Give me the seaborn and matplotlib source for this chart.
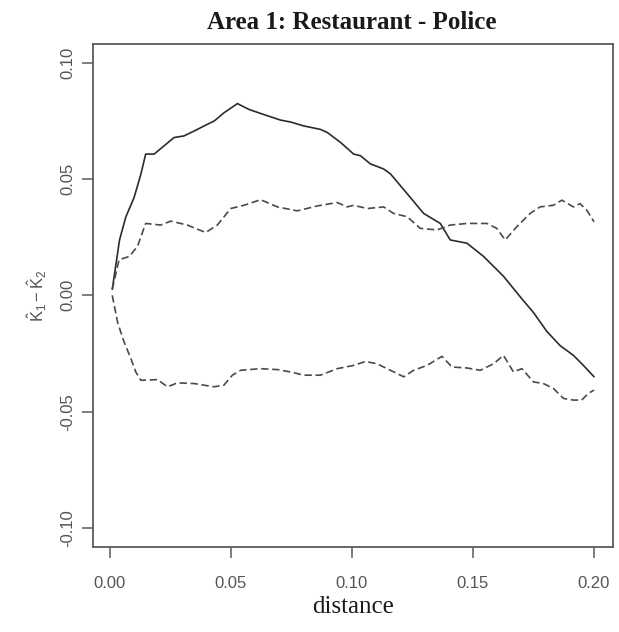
import numpy as np
import pandas as pd
import matplotlib
matplotlib.use("Agg")
import matplotlib.pyplot as plt
import seaborn as sns

# Observed difference of K functions and the simulation envelopes
obs_distance = [0.001, 0.004, 0.0066, 0.010, 0.0128, 0.0148, 0.0183, 0.0265, 0.0306,
                0.0348, 0.0403, 0.0431, 0.0471, 0.0527, 0.0574, 0.0636, 0.0705, 0.0746,
                0.0801, 0.087, 0.0898, 0.0953, 0.1007, 0.1035, 0.1076, 0.1131, 0.1159,
                0.1228, 0.1296, 0.1365, 0.1406, 0.1475, 0.1544, 0.1626, 0.1698, 0.175,
                0.1805, 0.186, 0.1915, 0.1956, 0.2]
obs_diff = [0.0026, 0.0238, 0.0337, 0.042, 0.052, 0.0607, 0.0607, 0.0678, 0.0685,
            0.0706, 0.0735, 0.0749, 0.0784, 0.0824, 0.0799, 0.0777, 0.0753, 0.0745,
            0.0728, 0.0713, 0.070, 0.0657, 0.0607, 0.060, 0.0565, 0.0543, 0.0522,
            0.0437, 0.0352, 0.0309, 0.0238, 0.0224, 0.0167, 0.0082, -0.001, -0.0074,
            -0.0155, -0.0216, -0.0258, -0.0301, -0.035]

hi_distance = [0.001, 0.0038, 0.008, 0.0114, 0.0148, 0.021, 0.0252, 0.032, 0.0396,
               0.0444, 0.0499, 0.0554, 0.0623, 0.0692, 0.0774, 0.0856, 0.0939, 0.098,
               0.1007, 0.1063, 0.1131, 0.1172, 0.1228, 0.1282, 0.1351, 0.1406, 0.1475,
               0.1557, 0.1598, 0.1633, 0.1681, 0.1736, 0.1777, 0.1832, 0.1867, 0.1915,
               0.1942, 0.197, 0.2]
hi_env = [0.0026, 0.0153, 0.0167, 0.021, 0.0309, 0.0302, 0.0319, 0.0302, 0.027,
          0.0302, 0.0373, 0.0387, 0.0411, 0.038, 0.0363, 0.0384, 0.0399, 0.038,
          0.0387, 0.0373, 0.038, 0.0352, 0.0338, 0.0288, 0.0281, 0.0302, 0.0309,
          0.0309, 0.0288, 0.0238, 0.0295, 0.0352, 0.038, 0.0387, 0.0409, 0.038,
          0.0394, 0.0366, 0.0316]

lo_distance = [0.001, 0.0032, 0.0059, 0.0087, 0.0107, 0.0128, 0.0197, 0.0238, 0.0279,
               0.0348, 0.043, 0.0471, 0.0506, 0.054, 0.0623, 0.0692, 0.0746, 0.0801,
               0.087, 0.0939, 0.1007, 0.1056, 0.1104, 0.1159, 0.1214, 0.1255, 0.131,
               0.1372, 0.1413, 0.1475, 0.153, 0.1585, 0.1626, 0.1667, 0.1702, 0.175,
               0.1791, 0.1832, 0.1874, 0.1915, 0.1949, 0.1977, 0.2]
lo_env = [0.0, -0.0116, -0.0201, -0.0272, -0.0329, -0.0365, -0.0362, -0.0393, -0.0376,
          -0.0379, -0.0393, -0.0386, -0.0343, -0.0322, -0.0315, -0.0319, -0.0329, -0.0343,
          -0.0343, -0.0315, -0.0301, -0.0284, -0.0294, -0.0322, -0.035, -0.0322, -0.0301,
          -0.0262, -0.0308, -0.0312, -0.0322, -0.0294, -0.0258, -0.0329, -0.0315, -0.0372,
          -0.0379, -0.04, -0.0443, -0.045, -0.045, -0.0421, -0.0407]

x_ticks = [0.00, 0.05, 0.10, 0.15, 0.20]
y_ticks = [-0.10, -0.05, 0.00, 0.05, 0.10]

df = pd.concat([
    pd.DataFrame({"distance": obs_distance, "value": obs_diff, "curve": "observed"}),
    pd.DataFrame({"distance": hi_distance, "value": hi_env, "curve": "upper"}),
    pd.DataFrame({"distance": lo_distance, "value": lo_env, "curve": "lower"}),
], ignore_index=True)

sns.set_style("white")
plt.rcParams["font.family"] = ["Liberation Sans", "DejaVu Sans"]
plt.rcParams["mathtext.fontset"] = "custom"
plt.rcParams["mathtext.rm"] = "Liberation Sans"
plt.rcParams["mathtext.it"] = "Liberation Sans:italic"

fig = plt.figure(figsize=(6.19, 6.32), dpi=100)
ax = fig.add_axes([93 / 619, 1 - 546.7 / 632, (613.3 - 93) / 619, (546.7 - 44) / 632])

sns.lineplot(
    data=df, x="distance", y="value", hue="curve", style="curve",
    palette={"observed": "#2b2b2b", "upper": "#4a4a4a", "lower": "#4a4a4a"},
    dashes={"observed": "", "upper": (4.4, 2.2), "lower": (4.4, 2.2)},
    estimator=None, sort=False, legend=False, linewidth=1.2, ax=ax,
)

ax.set_xlim(-0.00696, 0.20796)
ax.set_ylim(-0.108, 0.108)
ax.set_xticks(x_ticks)
ax.set_yticks(y_ticks)
ax.set_xticklabels([f"{v:.2f}" for v in x_ticks])
ax.set_yticklabels([f"{v:.2f}" for v in y_ticks])

for side in ["left", "right", "top", "bottom"]:
    ax.spines[side].set_visible(True)
    ax.spines[side].set_color("#5a5a5a")
    ax.spines[side].set_linewidth(1.3)

ax.tick_params(axis="both", direction="out", length=8, width=1.1, color="#5a5a5a",
               labelsize=12, labelcolor="#555555",
               left=True, bottom=True, right=False, top=False)
ax.tick_params(axis="x", pad=13)
ax.tick_params(axis="y", pad=5)
for lab in ax.get_yticklabels():
    lab.set_rotation(90)
    lab.set_va("center")

ax.set_ylabel(r"$\hat{\mathrm{K}}_1 - \hat{\mathrm{K}}_2$", fontsize=12, color="#555555")
ax.yaxis.set_label_coords(-0.084, 0.5)

ax.set_xlabel("distance", family=["Liberation Serif"], fontsize=18, color="#1a1a1a")
ax.xaxis.set_label_coords(0.5, -0.098)

ax.set_title("Area 1: Restaurant - Police", family=["Liberation Serif"],
             fontweight="bold", fontsize=18, color="#1a1a1a", pad=11, x=0.498)

fig.savefig("out.png", dpi=100, facecolor="white")
